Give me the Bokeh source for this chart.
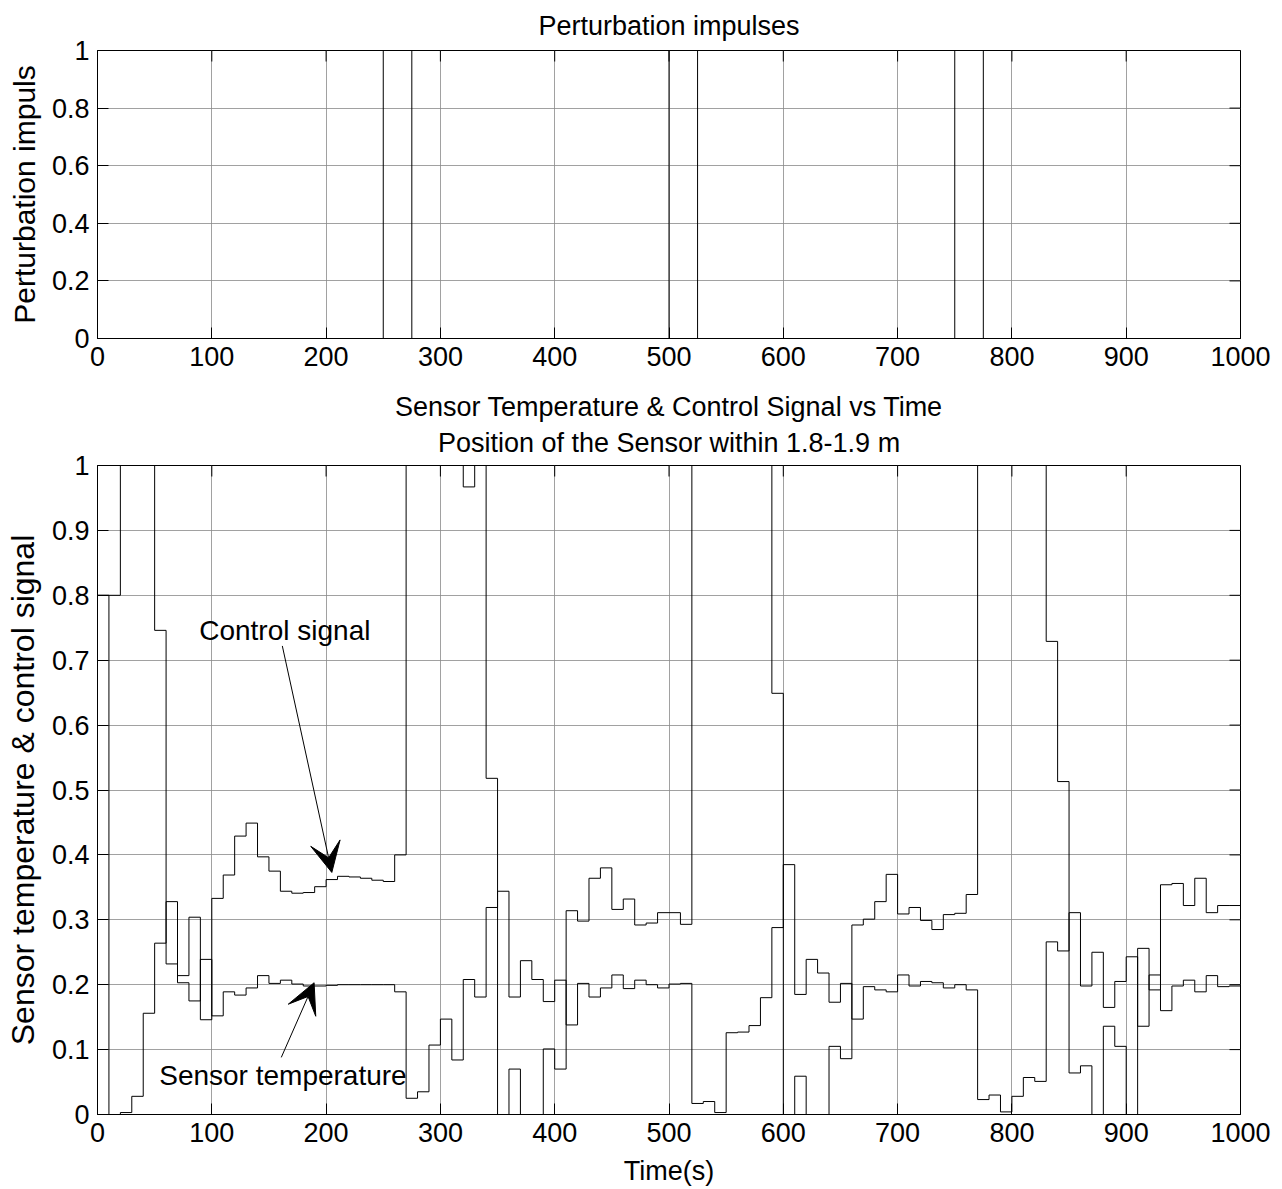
from bokeh.plotting import figure
from bokeh.models import (Range1d, Title, Arrow, VeeHead, Label,
                          FixedTicker, ColumnDataSource)
from bokeh.layouts import column
from bokeh.embed import file_html
from bokeh.resources import INLINE
import math

FONT = "Liberation Sans"
FS = "27px"

# ---------------- data ----------------
sample_period = 10  # s

control_signal = [
    0.800, 0.800, 1.000, 1.000, 1.000, 0.746, 0.232, 0.214, 0.304, 0.146,
    0.333, 0.369, 0.429, 0.449, 0.397, 0.375, 0.344, 0.341, 0.342, 0.351,
    0.362, 0.367, 0.366, 0.364, 0.361, 0.359, 0.400, 1.000, 1.000, 1.000,
    1.000, 1.000, 0.967, 1.000, 0.518, 0.000, 0.070, 0.000, 0.000, 0.101,
    0.070, 0.314, 0.298, 0.364, 0.380, 0.316, 0.332, 0.292, 0.295, 0.311,
    0.311, 0.293, 1.000, 1.000, 1.000, 1.000, 1.000, 1.000, 1.000, 0.649,
    0.000, 0.059, 0.000, 0.000, 0.105, 0.086, 0.292, 0.301, 0.328, 0.370,
    0.309, 0.319, 0.299, 0.285, 0.308, 0.310, 0.339, 1.000, 1.000, 1.000,
    1.000, 1.000, 1.000, 0.729, 0.513, 0.064, 0.075, 0.000, 0.136, 0.105,
    0.000, 0.256, 0.192, 0.354, 0.356, 0.322, 0.364, 0.311, 0.322, 0.322,
]

sensor_temperature = [
    0.800, 0.000, 0.003, 0.028, 0.156, 0.264, 0.328, 0.203, 0.175, 0.239,
    0.152, 0.189, 0.184, 0.195, 0.214, 0.202, 0.207, 0.201, 0.198, 0.198,
    0.199, 0.200, 0.200, 0.200, 0.200, 0.200, 0.189, 0.025, 0.035, 0.107,
    0.147, 0.084, 0.208, 0.181, 0.319, 0.344, 0.181, 0.237, 0.208, 0.174,
    0.207, 0.138, 0.202, 0.181, 0.195, 0.215, 0.194, 0.207, 0.200, 0.195,
    0.201, 0.202, 0.017, 0.020, 0.003, 0.126, 0.127, 0.137, 0.180, 0.288,
    0.385, 0.185, 0.239, 0.218, 0.173, 0.202, 0.147, 0.197, 0.192, 0.189,
    0.215, 0.198, 0.205, 0.203, 0.195, 0.200, 0.192, 0.023, 0.030, 0.004,
    0.028, 0.057, 0.051, 0.266, 0.252, 0.311, 0.198, 0.250, 0.165, 0.205,
    0.243, 0.136, 0.215, 0.160, 0.198, 0.207, 0.189, 0.214, 0.197, 0.198,
]

pulse_start = [250, 500, 750]   # s
pulse_width = 25                # s
pulse_height = 1.0
t_end = 1000

x_ticks = [0, 100, 200, 300, 400, 500, 600, 700, 800, 900, 1000]
x_tick_labels = ["0", "100", "200", "300", "400", "500", "600", "700", "800", "900", "1000"]
y_ticks_top = [0, 0.2, 0.4, 0.6, 0.8, 1]
y_tick_labels_top = ["0", "0.2", "0.4", "0.6", "0.8", "1"]
y_ticks_bot = [0, 0.1, 0.2, 0.3, 0.4, 0.5, 0.6, 0.7, 0.8, 0.9, 1]
y_tick_labels_bot = ["0", "0.1", "0.2", "0.3", "0.4", "0.5", "0.6", "0.7", "0.8", "0.9", "1"]

# ---------------- derived step series ----------------
time_s = [i * sample_period for i in range(len(control_signal))] + [t_end]
ctrl_y = control_signal + [control_signal[-1]]
sens_y = sensor_temperature + [sensor_temperature[-1]]

pert_t, pert_y = [0], [0.0]
for s in pulse_start:
    pert_t += [s, s + pulse_width]
    pert_y += [pulse_height, 0.0]
pert_t.append(t_end)
pert_y.append(0.0)

TICK = 11


def style(p, xt, xl, yt, yl, y_top, ylab_size):
    xtick = FixedTicker(ticks=xt)
    ytick = FixedTicker(ticks=yt)
    xa = p.xaxis[0]
    ya = p.yaxis[0]
    xa.ticker = xtick
    xa.major_label_overrides = {t: l for t, l in zip(xt, xl)}
    ya.ticker = ytick
    ya.major_label_overrides = {t: l for t, l in zip(yt, yl)}
    p.xgrid.ticker = xtick
    p.ygrid.ticker = ytick
    for g in (p.xgrid, p.ygrid):
        g.grid_line_color = "#8a8a8a"
        g.grid_line_width = 1
        g.grid_line_alpha = 0.8
    for ax in (xa, ya):
        ax.major_tick_in = TICK
        ax.major_tick_out = 0
        ax.minor_tick_line_color = None
        ax.axis_line_color = "black"
        ax.major_tick_line_color = "black"
        ax.major_label_text_font = FONT
        ax.major_label_text_font_size = FS
        ax.major_label_text_color = "black"
        ax.axis_label_text_font = FONT
        ax.axis_label_text_font_style = "normal"
        ax.axis_label_text_color = "black"
        ax.major_label_standoff = 8
    ya.axis_label_text_font_size = ylab_size
    xa.axis_label_text_font_size = FS
    ya.axis_label_standoff = 8
    xa.axis_label_standoff = 11
    # mirrored inward ticks on top and right edges (half of each dash is clipped by the frame)
    p.scatter(x=xt, y=[y_top] * len(xt), marker="dash", angle=math.pi / 2, size=2 * TICK,
              line_color="black", line_width=1)
    p.scatter(x=[t_end] * len(yt), y=yt, marker="dash", size=2 * TICK,
              line_color="black", line_width=1)
    p.outline_line_color = "black"
    p.background_fill_color = "white"
    p.border_fill_color = "white"
    return xa, ya


def make_title(text, standoff, valign):
    return Title(text=text, align="center", text_font=FONT, text_font_size=FS,
                 text_font_style="normal", text_color="black", standoff=standoff,
                 vertical_align=valign)


# ---------------- top figure ----------------
p1 = figure(frame_width=1143, frame_height=288, x_range=Range1d(0, t_end), y_range=Range1d(0, 1),
            output_backend="svg", toolbar_location=None,
            min_border_left=97, min_border_right=42, min_border_top=50, min_border_bottom=42)
xa1, ya1 = style(p1, x_ticks, x_tick_labels, y_ticks_top, y_tick_labels_top, 1, "30px")
ya1.axis_label = "Perturbation impuls"
p1.step(pert_t, pert_y, mode="after", line_color="black", line_width=1)
p1.add_layout(make_title("Perturbation impulses", 16, "top"), "above")

# ---------------- bottom figure ----------------
p2 = figure(frame_width=1143, frame_height=649, x_range=Range1d(0, t_end), y_range=Range1d(0, 1),
            output_backend="svg", toolbar_location=None,
            min_border_left=97, min_border_right=42, min_border_top=85, min_border_bottom=75)
xa2, ya2 = style(p2, x_ticks, x_tick_labels, y_ticks_bot, y_tick_labels_bot, 1, "32px")
ya2.axis_label = "Sensor temperature & control signal"
xa2.axis_label = "Time(s)"

src = ColumnDataSource(dict(t=time_s, ctrl=ctrl_y, sens=sens_y))
p2.step("t", "ctrl", source=src, mode="after", line_color="black", line_width=1)
p2.step("t", "sens", source=src, mode="after", line_color="black", line_width=1)

# titles: first added sits closest to the frame
p2.add_layout(make_title("Position of the Sensor within 1.8-1.9 m", 12, "top"), "above")
p2.add_layout(make_title("Sensor Temperature & Control Signal vs Time", 0, "bottom"), "above")

# annotations
p2.add_layout(Label(x=89, y=0.745, text="Control signal", text_font=FONT, text_font_size="28px",
                    text_baseline="middle", text_align="left", text_color="black"))
p2.add_layout(Label(x=54, y=0.06, text="Sensor temperature", text_font=FONT, text_font_size="28px",
                    text_baseline="middle", text_align="left", text_color="black"))
p2.add_layout(Arrow(end=VeeHead(size=30, fill_color="black", line_color="black"),
                    x_start=161.7, y_start=0.722, x_end=205, y_end=0.373,
                    line_color="black", line_width=1))
p2.add_layout(Arrow(end=VeeHead(size=30, fill_color="black", line_color="black"),
                    x_start=160.8, y_start=0.088, x_end=189.5, y_end=0.203,
                    line_color="black", line_width=1))

layout = column(p1, p2, spacing=0)
open("out.html", "w").write(file_html(layout, INLINE))
